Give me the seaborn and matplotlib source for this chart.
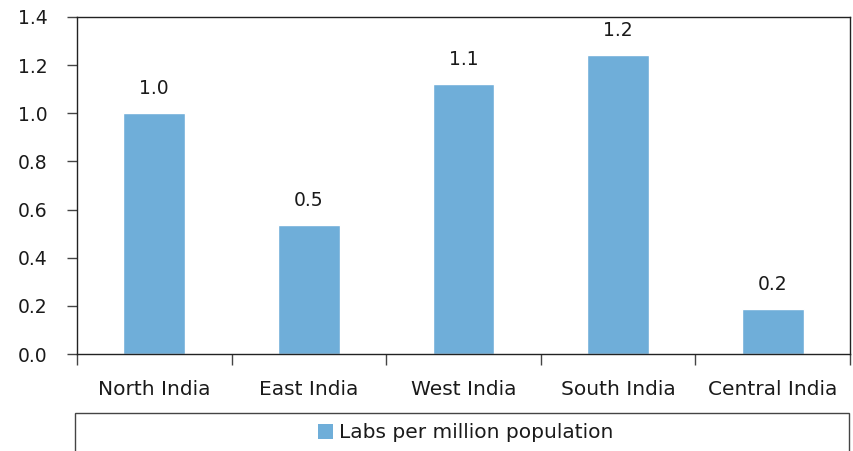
import numpy as np
import pandas as pd
import seaborn as sns
import matplotlib.pyplot as plt
from matplotlib.patches import Rectangle, Patch

regions = ['North India', 'East India', 'West India', 'South India', 'Central India']
labs_per_million = [1.00, 0.536, 1.12, 1.242, 0.187]
bar_labels = ['1.0', '0.5', '1.1', '1.2', '0.2']
series_name = 'Labs per million population'

sns.set_style('white')
plt.rcParams['font.family'] = ['DejaVu Sans']
plt.rcParams['text.color'] = '#1a1a1a'

df = pd.DataFrame({'region': regions, 'value': labs_per_million})

fig = plt.figure(figsize=(8.54, 4.51), dpi=100)
ax = fig.add_axes([77 / 854, 1 - 354 / 451, 773 / 854, 337 / 451])

bar_color = '#6FAED9'
sns.barplot(data=df, x='region', y='value', color=bar_color, width=0.4,
            saturation=1, ax=ax)

for i, lab in enumerate(bar_labels):
    ax.text(i, labs_per_million[i] + 0.08, lab, ha='center', va='baseline',
            fontsize=13.5, color='#1a1a1a')

ax.set_ylim(0, 1.4)
ax.set_xlim(-0.5, len(regions) - 0.5)
ax.set_yticks(np.arange(0, 1.41, 0.2))
ax.set_yticklabels([f'{v:.1f}' for v in np.arange(0, 1.41, 0.2)])
ax.set_xlabel('')
ax.set_ylabel('')

ax.set_xticks(np.arange(-0.5, len(regions), 1.0), minor=True)
ax.tick_params(axis='x', which='major', length=0, pad=19, labelsize=14.5,
               labelcolor='#1a1a1a')
ax.tick_params(axis='x', which='minor', length=8, width=1, color='#444444',
               direction='out')
ax.tick_params(axis='y', length=7, width=1, color='#444444', direction='out',
               labelsize=13.5, pad=14, labelcolor='#1a1a1a')
ax.xaxis.set_ticks_position('bottom')
ax.yaxis.set_ticks_position('left')

for side in ['left', 'bottom', 'top', 'right']:
    ax.spines[side].set_visible(True)
    ax.spines[side].set_color('#222222')
    ax.spines[side].set_linewidth(1.0)

# legend box below the chart
fig.patches.append(Rectangle((75 / 854, -0.05), 774 / 854, 0.05 + 1 - 413 / 451,
                             transform=fig.transFigure, fill=False,
                             edgecolor='#444444', linewidth=1.0))
handle = Patch(facecolor=bar_color, edgecolor='none')
fig.legend([handle], [series_name], loc='center', bbox_to_anchor=(0.545, 1 - 433 / 451),
           frameon=False, fontsize=14.5, handlelength=0.75, handleheight=0.75,
           handletextpad=0.3)

fig.savefig('out.png', dpi=100)
